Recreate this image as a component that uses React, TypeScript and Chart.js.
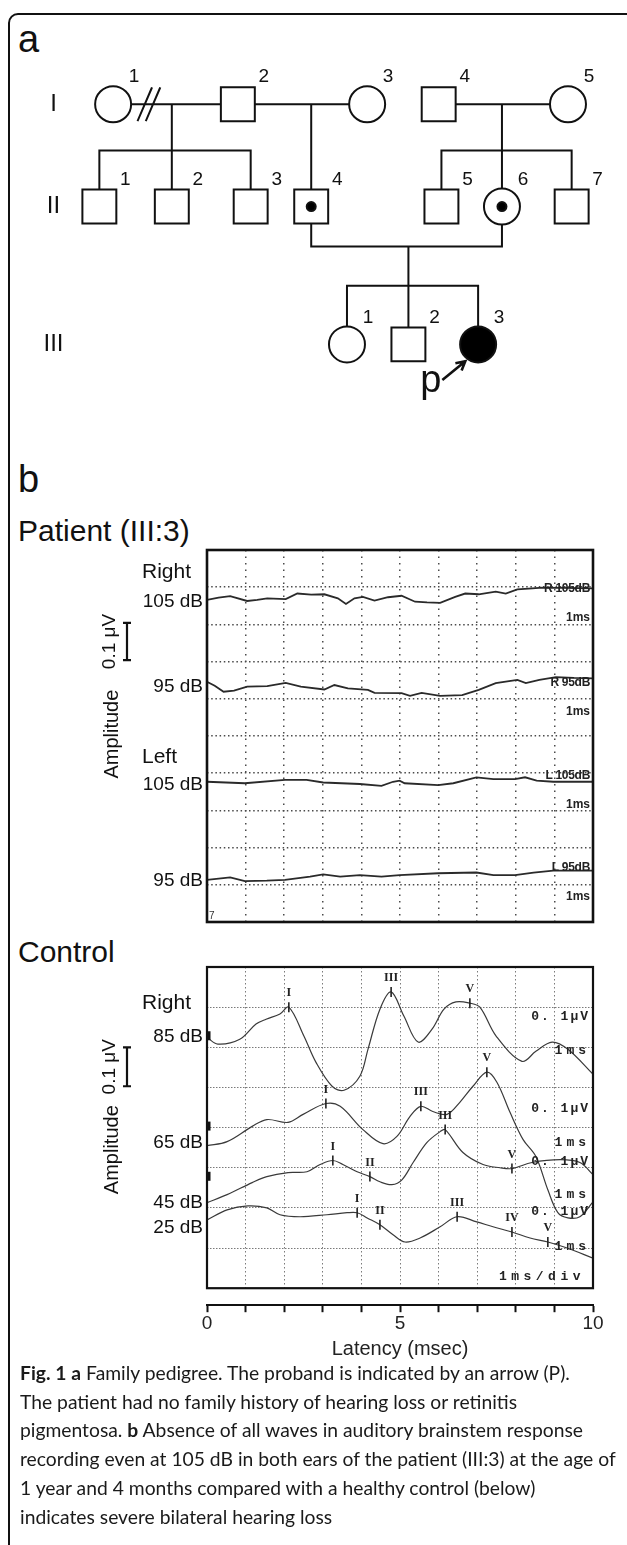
import React, { useEffect, useRef } from 'react';
import { Chart, registerables } from 'chart.js';

Chart.register(...registerables);

const SANS = '"Liberation Sans", Arial, Helvetica, sans-serif';
Chart.defaults.font.family = SANS;

// ================= Panel a : pedigree =================
const generationLabels = ['I', 'II', 'III'];
const generationLevels = [88, 203, 358];

type Person = { gen: number; num: string; pos: number; sex: 'M' | 'F'; carrier?: boolean; affected?: boolean; proband?: boolean };
const persons: Person[] = [
  { gen: 0, num: '1', pos: 95, sex: 'F' },
  { gen: 0, num: '2', pos: 231, sex: 'M' },
  { gen: 0, num: '3', pos: 372, sex: 'F' },
  { gen: 0, num: '4', pos: 450, sex: 'M' },
  { gen: 0, num: '5', pos: 591, sex: 'F' },
  { gen: 1, num: '1', pos: 80, sex: 'M' },
  { gen: 1, num: '2', pos: 159, sex: 'M' },
  { gen: 1, num: '3', pos: 245, sex: 'M' },
  { gen: 1, num: '4', pos: 311, sex: 'M', carrier: true },
  { gen: 1, num: '5', pos: 453, sex: 'M' },
  { gen: 1, num: '6', pos: 519, sex: 'F', carrier: true },
  { gen: 1, num: '7', pos: 595, sex: 'M' },
  { gen: 2, num: '1', pos: 350, sex: 'F' },
  { gen: 2, num: '2', pos: 417, sex: 'M' },
  { gen: 2, num: '3', pos: 493, sex: 'F', affected: true, proband: true },
];

type Union = { partners: [number, number]; dropAt: number; sibshipLevel?: number; joinLevel?: number; divorcedAt?: number; children: number[] };
const unions: Union[] = [
  { partners: [0, 1], dropAt: 159, sibshipLevel: 140, divorcedAt: 134, children: [5, 6, 7] },
  { partners: [1, 2], dropAt: 311, children: [8] },
  { partners: [3, 4], dropAt: 519, sibshipLevel: 140, children: [9, 10, 11] },
  { partners: [8, 10], joinLevel: 248, dropAt: 417, sibshipLevel: 292, children: [12, 13, 14] },
];

// ================= Panel b : ABR recordings (latency ms, amplitude in divisions) =================
const patientRight105 = [[0, 8.66], [0.3, 8.72], [0.6, 8.76], [1.04, 8.63], [1.3, 8.66], [1.56, 8.7], [2.04, 8.68], [2.34, 8.83], [2.7, 8.8], [3.04, 8.81], [3.39, 8.7], [3.6, 8.55], [3.82, 8.7], [4.04, 8.74], [4.34, 8.64], [4.69, 8.73], [5.04, 8.77], [5.39, 8.61], [5.7, 8.59], [6.04, 8.58], [6.43, 8.74], [6.69, 8.83], [7.04, 8.81], [7.48, 8.88], [7.74, 8.83], [8.04, 8.94], [8.43, 8.97], [8.69, 8.99], [9.2, 8.98], [10, 8.97]];
const patientRight95 = [[0, 6.46], [0.2, 6.35], [0.43, 6.19], [0.7, 6.22], [1.04, 6.33], [1.56, 6.34], [2.04, 6.43], [2.43, 6.33], [3.04, 6.25], [3.3, 6.37], [3.65, 6.28], [4.17, 6.24], [4.34, 6.16], [5.04, 6.15], [5.26, 6.08], [5.56, 6.16], [6.04, 6.08], [6.61, 6.1], [7.04, 6.24], [7.48, 6.42], [8.04, 6.51], [8.26, 6.42], [8.61, 6.51], [9.04, 6.58], [9.5, 6.56], [10, 6.55]];
const patientLeft105 = [[0, 3.77], [0.98, 3.73], [2.02, 3.82], [2.58, 3.82], [3.01, 3.75], [3.96, 3.71], [4.52, 3.66], [4.82, 3.77], [4.99, 3.8], [5.12, 3.73], [5.99, 3.68], [6.38, 3.73], [6.98, 3.89], [7.42, 3.84], [7.98, 3.84], [8.24, 3.89], [8.54, 3.8], [8.97, 3.77], [10, 3.77]];
const patientLeft95 = [[0, 1.13], [0.6, 1.2], [0.98, 1.1], [1.55, 1.11], [2.02, 1.13], [2.67, 1.22], [3.01, 1.28], [3.45, 1.22], [3.96, 1.26], [4.52, 1.22], [4.99, 1.26], [5.99, 1.31], [6.98, 1.33], [7.42, 1.26], [7.98, 1.26], [8.46, 1.33], [8.97, 1.38], [10, 1.38]];

const controlRight85 = [[0, 6.25], [0.28, 6.08], [0.85, 6.2], [1.27, 6.58], [1.53, 6.7], [1.89, 6.83], [2.12, 7.0], [2.51, 6.28], [2.82, 5.63], [3.24, 5.03], [3.55, 4.93], [3.96, 5.28], [4.17, 5.95], [4.48, 6.95], [4.77, 7.38], [5.1, 6.78], [5.47, 6.13], [5.83, 6.45], [6.14, 6.95], [6.45, 7.13], [6.81, 7.1], [7.07, 7.0], [7.49, 6.28], [8.16, 5.65], [8.52, 5.9], [8.94, 6.13], [9.35, 5.95], [10, 5.33]];
const controlRight65 = [[0, 3.55], [0.52, 3.65], [1.17, 4.03], [1.55, 4.2], [2.1, 4.13], [2.49, 4.33], [3.08, 4.6], [3.45, 4.53], [4.04, 3.95], [4.56, 3.6], [4.92, 3.78], [5.26, 4.28], [5.54, 4.53], [5.85, 4.4], [6.22, 4.33], [6.55, 4.63], [6.89, 5.03], [7.25, 5.38], [7.51, 5.13], [7.85, 4.38], [8.19, 3.7], [8.52, 3.28], [8.83, 2.45], [9.09, 1.88], [9.35, 1.75], [9.66, 1.78], [10, 2.15]];
const controlRight45 = [[0, 2.13], [0.52, 2.33], [1.17, 2.63], [1.55, 2.78], [2.1, 2.88], [2.59, 2.9], [2.93, 3.08], [3.26, 3.18], [3.52, 3.08], [3.89, 2.9], [4.22, 2.78], [4.48, 2.65], [4.79, 2.58], [5.05, 2.7], [5.34, 3.13], [5.7, 3.63], [6.04, 3.9], [6.17, 3.95], [6.63, 3.38], [7.15, 3.08], [7.59, 3.0], [7.9, 2.98], [8.42, 3.13], [9.15, 3.2], [9.66, 3.13], [10, 2.83]];
const controlRight25 = [[0, 1.7], [0.52, 1.95], [1.06, 2.05], [1.55, 2.0], [1.89, 1.83], [2.41, 1.78], [3.11, 1.83], [3.63, 1.88], [3.89, 1.88], [4.15, 1.75], [4.48, 1.58], [4.82, 1.33], [5.13, 1.15], [5.52, 1.25], [6.04, 1.53], [6.48, 1.78], [6.99, 1.65], [7.41, 1.53], [7.9, 1.4], [8.37, 1.25], [8.83, 1.15], [9.33, 1.0], [10, 0.75]];

const waves85: [number, number, string][] = [[2.12, 7.0, 'I'], [4.77, 7.38, 'III'], [6.81, 7.1, 'V']];
const waves65: [number, number, string][] = [[3.08, 4.6, 'I'], [5.54, 4.53, 'III'], [7.25, 5.38, 'V']];
const waves45: [number, number, string][] = [[3.26, 3.18, 'I'], [4.22, 2.78, 'II'], [6.17, 3.95, 'III'], [7.9, 2.98, 'V']];
const waves25: [number, number, string][] = [[3.89, 1.88, 'I'], [4.48, 1.58, 'II'], [6.48, 1.78, 'III'], [7.9, 1.4, 'IV'], [8.83, 1.15, 'V']];

const latencyTickLabels = [0, 5, 10];

// ================= Pedigree chart =================
function buildPedigree() {
  const lvl = (p: Person) => generationLevels[p.gen];
  const pt = (p: Person) => ({ x: p.pos, y: lvl(p) });
  const style = { genLabelX: 30, arrowTail: [-39, 40], arrowTip: [-14, 19], pLabel: [-63, 54] };

  const pts: any[] = [];
  const seg = (...p: number[][]) => { p.forEach(([x, y]) => pts.push({ x, y })); pts.push({ x: NaN, y: null }); };
  unions.forEach((u) => {
    const a = persons[u.partners[0]];
    const b = persons[u.partners[1]];
    const ay = lvl(a);
    let my = ay;
    if (u.joinLevel !== undefined) {
      my = u.joinLevel;
      seg([a.pos, ay], [a.pos, my], [b.pos, my], [b.pos, ay]);
    } else {
      seg([a.pos, ay], [b.pos, ay]);
    }
    if (u.divorcedAt !== undefined) {
      [-4.5, 4.5].forEach((o) => seg([u.divorcedAt! + o - 7.5, ay + 18], [u.divorcedAt! + o + 7.5, ay - 18]));
    }
    const kids = u.children.map((i) => persons[i]);
    const ky = lvl(kids[0]);
    if (u.sibshipLevel === undefined) {
      seg([u.dropAt, my], [u.dropAt, ky]);
    } else {
      seg([u.dropAt, my], [u.dropAt, u.sibshipLevel]);
      const xs = kids.map((k) => k.pos);
      seg([Math.min(...xs), u.sibshipLevel], [Math.max(...xs), u.sibshipLevel]);
      kids.forEach((k) => seg([k.pos, u.sibshipLevel!], [k.pos, ky]));
    }
  });

  const proband = persons.find((p) => p.proband)!;
  const tail = [proband.pos + style.arrowTail[0], lvl(proband) + style.arrowTail[1]];
  const tip = [proband.pos + style.arrowTip[0], lvl(proband) + style.arrowTip[1]];
  const len = Math.hypot(tip[0] - tail[0], tip[1] - tail[1]);
  const bx = (tail[0] - tip[0]) / len;
  const by = (tail[1] - tip[1]) / len;
  const head = (ang: number) => {
    const c = Math.cos(ang), s = Math.sin(ang);
    return [tip[0] + 11 * (bx * c - by * s), tip[1] + 11 * (bx * s + by * c)];
  };
  const arrowPts = [tail, tip, [NaN, null], head(0.5), tip, head(-0.5)].map(([x, y]) => ({ x, y }));

  const symbol = (data: any[], styleName: string, r: number, fill: string, order: number) => ({
    type: 'scatter', data, pointStyle: styleName, pointRadius: r, pointHoverRadius: r,
    pointBackgroundColor: fill, pointBorderColor: '#111', pointBorderWidth: 2, order, clip: false,
  });

  const textPlugin = {
    id: 'pedigreeText',
    afterDatasetsDraw(chart: any) {
      const { ctx, scales } = chart;
      const X = (v: number) => scales.x.getPixelForValue(v);
      const Y = (v: number) => scales.y.getPixelForValue(v);
      ctx.save();
      ctx.fillStyle = '#111';
      ctx.textBaseline = 'middle';
      ctx.textAlign = 'center';
      ctx.font = `24px ${SANS}`;
      generationLabels.forEach((g, i) => ctx.fillText(g, X(style.genLabelX), Y(generationLevels[i])));
      ctx.font = `19px ${SANS}`;
      persons.forEach((p) => ctx.fillText(p.num, X(p.pos) + (p.sex === 'F' ? 21 : 26), Y(lvl(p)) - 27));
      ctx.textAlign = 'left';
      ctx.textBaseline = 'alphabetic';
      ctx.font = `38px ${SANS}`;
      ctx.fillText('p', X(proband.pos + style.pLabel[0]), Y(lvl(proband) + style.pLabel[1]));
      ctx.restore();
    },
  };

  return {
    type: 'scatter',
    data: {
      datasets: [
        symbol(persons.filter((p) => p.carrier).map(pt), 'circle', 4.5, '#000', 0),
        symbol(persons.filter((p) => p.sex === 'M').map(pt), 'rect', 24, '#fff', 1),
        symbol(persons.filter((p) => p.sex === 'F' && !p.affected).map(pt), 'circle', 18, '#fff', 1),
        symbol(persons.filter((p) => p.affected).map(pt), 'circle', 18, '#000', 1),
        { type: 'line', data: pts, borderColor: '#111', borderWidth: 2, pointRadius: 0, spanGaps: false, tension: 0, borderCapStyle: 'square', order: 5, clip: false },
        { type: 'line', data: arrowPts, borderColor: '#111', borderWidth: 2.6, pointRadius: 0, spanGaps: false, tension: 0, order: 5, clip: false },
      ],
    },
    options: {
      responsive: false, animation: false, devicePixelRatio: 1, events: [],
      layout: { padding: 0 },
      plugins: { legend: { display: false }, tooltip: { enabled: false } },
      scales: {
        x: { type: 'linear', min: 0, max: 627, display: false },
        y: { type: 'linear', min: 0, max: 470, reverse: true, display: false },
      },
    },
    plugins: [textPlugin],
  };
}

// ================= ABR charts =================
type Decor = {
  frameWidth: number;
  leftLabels: { text: string; at: number; group?: boolean }[];
  scaleBar: [number, number];
  amplitudeAt: number;
  tags: { text: string; at: number; sub: string; gap: number }[];
  tagFont: string;
  tagSpacing: [string, string];
  footer?: { text: string; at: number; spacing: string };
  edgeMarks?: number[];
  cornerGlyph?: boolean;
  waveDataset?: number;
};

function abrDecor(cfg: Decor) {
  return {
    id: 'abrDecor',
    afterDatasetsDraw(chart: any) {
      const { ctx, chartArea: a, scales } = chart;
      const Y = (v: number) => scales.y.getPixelForValue(v);
      ctx.save();
      if (cfg.waveDataset !== undefined) {
        const meta = chart.getDatasetMeta(cfg.waveDataset);
        const raw = chart.data.datasets[cfg.waveDataset].data;
        ctx.fillStyle = '#222';
        ctx.font = `bold 12px "Liberation Serif", serif`;
        ctx.textAlign = 'center';
        ctx.textBaseline = 'middle';
        meta.data.forEach((el: any, i: number) => ctx.fillText(raw[i].wave, el.x, el.y - 14));
      }
      ctx.strokeStyle = '#111';
      ctx.lineWidth = cfg.frameWidth;
      ctx.strokeRect(a.left, a.top, a.right - a.left, a.bottom - a.top);
      if (cfg.edgeMarks) {
        ctx.fillStyle = '#111';
        cfg.edgeMarks.forEach((v) => ctx.fillRect(a.left, Y(v) - 4, 3.5, 9));
      }
      if (cfg.cornerGlyph) {
        ctx.fillStyle = '#333';
        ctx.font = `10px ${SANS}`;
        ctx.textAlign = 'left';
        ctx.textBaseline = 'alphabetic';
        ctx.fillText('7', a.left + 2, a.bottom - 3);
      }
      ctx.fillStyle = '#111';
      ctx.textBaseline = 'middle';
      cfg.leftLabels.forEach((l) => {
        if (l.group) {
          ctx.font = `21px ${SANS}`;
          ctx.textAlign = 'left';
          ctx.fillText(l.text, a.left - 65, Y(l.at));
        } else {
          ctx.font = `19px ${SANS}`;
          ctx.textAlign = 'right';
          ctx.fillText(l.text, a.left - 4, Y(l.at));
        }
      });
      const bx = a.left - 80;
      const y0 = Y(cfg.scaleBar[0]);
      const y1 = Y(cfg.scaleBar[1]);
      ctx.strokeStyle = '#111';
      ctx.lineWidth = 2.2;
      ctx.beginPath();
      ctx.moveTo(bx, y0); ctx.lineTo(bx, y1);
      ctx.moveTo(bx - 4, y0); ctx.lineTo(bx + 4, y0);
      ctx.moveTo(bx - 4, y1); ctx.lineTo(bx + 4, y1);
      ctx.stroke();
      const rot = (text: string, x: number, y: number, font: string) => {
        ctx.save();
        ctx.translate(x, y);
        ctx.rotate(-Math.PI / 2);
        ctx.font = font;
        ctx.textAlign = 'center';
        ctx.textBaseline = 'middle';
        ctx.fillText(text, 0, 0);
        ctx.restore();
      };
      rot('0.1 μV', a.left - 97, (y0 + y1) / 2, `19px ${SANS}`);
      rot('Amplitude', a.left - 95, Y(cfg.amplitudeAt), `20px ${SANS}`);
      ctx.fillStyle = '#222';
      ctx.textAlign = 'right';
      ctx.textBaseline = 'middle';
      ctx.font = cfg.tagFont;
      cfg.tags.forEach((t) => {
        (ctx as any).letterSpacing = cfg.tagSpacing[0];
        ctx.fillText(t.text, a.right - 3, Y(t.at));
        (ctx as any).letterSpacing = cfg.tagSpacing[1];
        ctx.fillText(t.sub, a.right - 3, Y(t.at) + t.gap);
      });
      if (cfg.footer) {
        (ctx as any).letterSpacing = cfg.footer.spacing;
        ctx.fillText(cfg.footer.text, a.right - 8, Y(cfg.footer.at));
      }
      (ctx as any).letterSpacing = '0px';
      ctx.restore();
    },
  };
}

const trace = (t: number[][], color: string, width: number, tension: number) => ({
  type: 'line', data: t.map(([x, y]) => ({ x, y })), borderColor: color, borderWidth: width,
  pointRadius: 0, tension, fill: false, xAxisID: 'x', yAxisID: 'y', order: 2,
});

const hiddenTicks = { display: false, stepSize: 1 };

function buildPatient() {
  const decor: Decor = {
    frameWidth: 2.6,
    leftLabels: [
      { text: 'Right', at: 9.4, group: true },
      { text: '105 dB', at: 8.6 },
      { text: '95 dB', at: 6.32 },
      { text: 'Left', at: 4.42, group: true },
      { text: '105 dB', at: 3.68 },
      { text: '95 dB', at: 1.1 },
    ],
    scaleBar: [7.04, 8.04],
    amplitudeAt: 5.05,
    tags: [
      { text: 'R 105dB', at: 8.95, sub: '1ms', gap: 29 },
      { text: 'R 95dB', at: 6.42, sub: '1ms', gap: 29 },
      { text: 'L 105dB', at: 3.92, sub: '1ms', gap: 29 },
      { text: 'L 95dB', at: 1.45, sub: '1ms', gap: 29 },
    ],
    tagFont: `bold 12px ${SANS}`,
    tagSpacing: ['-0.3px', '0px'],
    cornerGlyph: true,
  };
  return {
    type: 'line',
    data: {
      datasets: [patientRight105, patientRight95, patientLeft105, patientLeft95].map((t) => trace(t, '#2a2a2a', 1.8, 0)),
    },
    options: {
      responsive: false, animation: false, devicePixelRatio: 1, events: [],
      layout: { padding: { left: 207, right: 34, top: 10, bottom: 5 } },
      plugins: { legend: { display: false }, tooltip: { enabled: false } },
      scales: {
        x: { type: 'linear', min: 0, max: 10, ticks: hiddenTicks, grid: { color: '#4a4a4a', lineWidth: 1.5, drawTicks: false }, border: { display: false, dash: [1.5, 5] } },
        y: { type: 'linear', min: 0, max: 10, ticks: hiddenTicks, grid: { color: '#4a4a4a', lineWidth: 1.5, drawTicks: false }, border: { display: false, dash: [1.5, 2.7] } },
      },
    },
    plugins: [abrDecor(decor)],
  };
}

function buildControl() {
  const waveData = [waves85, waves65, waves45, waves25].flatMap((w) => w.map(([x, y, wave]) => ({ x, y, wave })));
  const decor: Decor = {
    frameWidth: 2.2,
    leftLabels: [
      { text: 'Right', at: 7.1, group: true },
      { text: '85 dB', at: 6.25 },
      { text: '65 dB', at: 3.62 },
      { text: '45 dB', at: 2.12 },
      { text: '25 dB', at: 1.5 },
    ],
    scaleBar: [5.03, 6.0],
    amplitudeAt: 3.45,
    tags: [
      { text: '0. 1μV', at: 6.75, sub: '1ms', gap: 34 },
      { text: '0. 1μV', at: 4.48, sub: '1ms', gap: 34 },
      { text: '0. 1μV', at: 3.15, sub: '1ms', gap: 33 },
      { text: '0. 1μV', at: 1.9, sub: '1ms', gap: 35 },
    ],
    tagFont: `bold 13px "Liberation Mono", monospace`,
    tagSpacing: ['2px', '4px'],
    footer: { text: '1ms/div', at: 0.28, spacing: '4.5px' },
    edgeMarks: [6.3, 4.05, 2.8],
    waveDataset: 4,
  };
  return {
    type: 'line',
    data: {
      datasets: [
        ...[controlRight85, controlRight65, controlRight45, controlRight25].map((t) => trace(t, '#3a3a3a', 1.2, 0.35)),
        { type: 'scatter', data: waveData, pointStyle: 'line', pointRotation: 90, pointRadius: 5, pointHoverRadius: 5, pointBorderColor: '#222', pointBorderWidth: 1.6, xAxisID: 'x', yAxisID: 'y', order: 0 },
      ],
    },
    options: {
      responsive: false, animation: false, devicePixelRatio: 1, events: [],
      layout: { padding: { left: 207, right: 34, top: 12, bottom: 0 } },
      plugins: { legend: { display: false }, tooltip: { enabled: false } },
      scales: {
        x: {
          type: 'linear', position: 'bottom', weight: 0, min: 0, max: 10, ticks: hiddenTicks,
          grid: { color: '#7a7a7a', lineWidth: 1, drawTicks: true, tickLength: 17, tickColor: 'rgba(0,0,0,0)' },
          border: { display: false, dash: [1.5, 2.5] },
        },
        y: {
          type: 'linear', min: 0, max: 8, ticks: hiddenTicks,
          grid: { color: '#7a7a7a', lineWidth: 1, drawTicks: false }, border: { display: false, dash: [1.5, 1.5] },
        },
        lat: {
          type: 'linear', axis: 'x', position: 'bottom', weight: 1, min: 0, max: 10,
          ticks: {
            stepSize: 1, autoSkip: false, maxRotation: 0, padding: 0, color: '#222', font: { size: 19 },
            callback: (v: number) => (latencyTickLabels.includes(v) ? String(v) : ''),
          },
          grid: { drawOnChartArea: false, drawTicks: true, tickLength: 7, tickColor: '#111', tickWidth: 2 },
          border: { display: true, color: '#111', width: 2 },
          title: { display: true, text: 'Latency (msec)', color: '#222', font: { size: 20 }, padding: { top: 2, bottom: 0 } },
        },
      },
    },
    plugins: [abrDecor(decor)],
  };
}

function Plot({ top, height, build }: { top: number; height: number; build: () => any }) {
  const ref = useRef<HTMLCanvasElement>(null);
  useEffect(() => {
    const chart = new Chart(ref.current as HTMLCanvasElement, build());
    return () => chart.destroy();
  }, []);
  return <canvas ref={ref} width={627} height={height} style={{ position: 'absolute', left: 0, top, width: 627, height }} />;
}

function Heading({ text, size, left, baseline }: { text: string; size: number; left: number; baseline: number }) {
  return (
    <div style={{ position: 'absolute', left, top: baseline - 0.8465 * size, fontSize: size, lineHeight: `${size}px`, whiteSpace: 'nowrap', fontFamily: SANS, color: '#111' }}>
      {text}
    </div>
  );
}

const captionLines: (string | { b: string })[][] = [
  [{ b: 'Fig. 1' }, ' ', { b: 'a' }, ' Family pedigree. The proband is indicated by an arrow (P).'],
  ['The patient had no family history of hearing loss or retinitis'],
  ['pigmentosa. ', { b: 'b' }, ' Absence of all waves in auditory brainstem response'],
  ['recording even at 105 dB in both ears of the patient (III:3) at the age of'],
  ['1 year and 4 months compared with a healthy control (below)'],
  ['indicates severe bilateral hearing loss'],
];

export default function App() {
  return (
    <div style={{ position: 'absolute', left: 0, top: 0, width: 627, height: 1545, overflow: 'hidden', background: '#fff' }}>
      <div style={{ position: 'absolute', left: 8, top: 13, width: 640, height: 1600, border: '2px solid #111', borderRadius: 10, boxSizing: 'border-box' }} />
      <Heading text="a" size={38} left={18} baseline={52} />
      <Heading text="b" size={38} left={18} baseline={492} />
      <Heading text="Patient (III:3)" size={30} left={18} baseline={541} />
      <Heading text="Control" size={30} left={18} baseline={962} />
      <Plot top={0} height={470} build={buildPedigree} />
      <Plot top={540} height={387} build={buildPatient} />
      <Plot top={955} height={406} build={buildControl} />
      <div style={{ position: 'absolute', left: 20, top: 1359, fontFamily: 'Lato, "Open Sans", sans-serif', fontSize: 19.3, lineHeight: '28.7px', color: '#1a1a1a' }}>
        {captionLines.map((line, i) => (
          <div key={i} style={{ whiteSpace: 'nowrap' }}>
            {line.map((part, j) => (typeof part === 'string' ? <span key={j}>{part}</span> : <b key={j}>{part.b}</b>))}
          </div>
        ))}
      </div>
    </div>
  );
}
